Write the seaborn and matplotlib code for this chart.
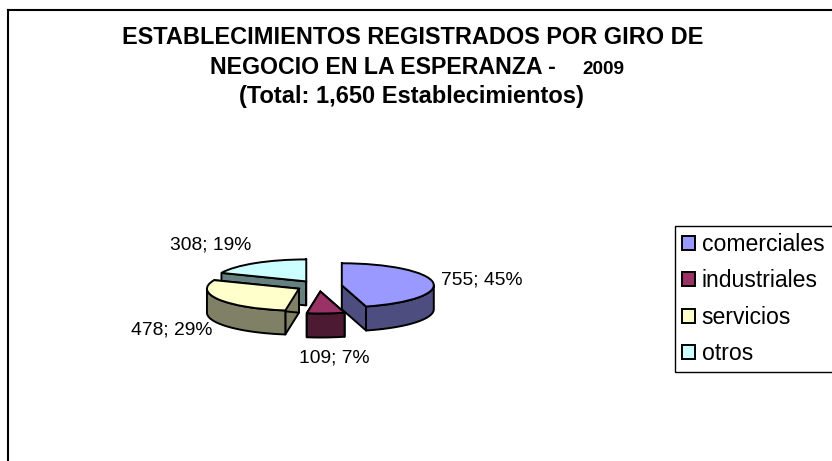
import numpy as np
import matplotlib
matplotlib.use("Agg")
import matplotlib.pyplot as plt
from matplotlib.patches import Polygon
import seaborn as sns

# ---- data ----
categories = ["comerciales", "industriales", "servicios", "otros"]
values = [755, 109, 478, 308]
percents = [45, 7, 29, 19]
top_colors = ["#9999FF", "#993366", "#FFFFCC", "#CCFFFF"]

title_line1 = "ESTABLECIMIENTOS REGISTRADOS POR GIRO DE"
title_line2 = "NEGOCIO EN LA ESPERANZA -"
title_year = "2009"
title_line3 = "(Total: 1,650 Establecimientos)"

sns.set_theme(style="white")
plt.rcParams["font.family"] = ["Liberation Sans", "DejaVu Sans"]
palette = sns.color_palette(top_colors)
side_palette = [tuple(c * 0.5 for c in col) for col in palette]

W, H = 832, 461
fig = plt.figure(figsize=(W / 100, H / 100), dpi=100, facecolor="white")

# layout (pixels)
frame_l, frame_t = 8, 10
cx, cy = 319, 286
rx, ry = 92, 22
depth = 24 / ry          # wall height in pie-y units
explode = 0.25

ax = fig.add_axes([frame_l / W, 0 - 0.02, 1.05, 1 - frame_t / H + 0.02])
for s in ["right", "bottom"]:
    ax.spines[s].set_visible(False)
for s in ["left", "top"]:
    ax.spines[s].set_visible(True)
    ax.spines[s].set_color("black")
    ax.spines[s].set_linewidth(1.5)

wedges, _ = ax.pie(values, colors=palette, startangle=90, counterclock=False,
                   explode=[explode] * len(values), radius=1, center=(0, 0),
                   wedgeprops=dict(edgecolor="black", linewidth=1.4),
                   frame=True, normalize=True)
ax.set_aspect("auto")
ax.set_xlim((frame_l - cx) / rx, (frame_l + 1.05 * W - cx) / rx)
ax.set_ylim((cy - (H + 0.02 * H)) / ry, (cy - frame_t) / ry)
ax.set_xticks([]); ax.set_yticks([])

# paint order: back slices first
paint_order = [3, 2, 0, 1]
fracs = np.array(values) / np.sum(values)
ends = np.cumsum(fracs) * 360
starts = ends - fracs * 360


def pt(a, r=1.0):
    t = np.radians(a)
    return np.array([r * np.sin(t), r * np.cos(t)])


for z, i in enumerate(paint_order):
    a0, a1 = starts[i], ends[i]
    mid = (a0 + a1) / 2
    apex = pt(mid, explode)
    base = 2 + z * 2
    drop = np.array([0, -depth])
    sidekw = dict(facecolor=side_palette[i], edgecolor="black", linewidth=1.4,
                  zorder=base, joinstyle="round")
    # radial cut walls
    for a in (a0, a1):
        rim = apex + pt(a)
        ax.add_patch(Polygon([apex, rim, rim + drop, apex + drop], closed=True, **sidekw))
    # outer wall on the front half
    lo, hi = max(a0, 90), min(a1, 270)
    if hi > lo:
        arc = np.array([apex + pt(a) for a in np.linspace(lo, hi, 40)])
        ax.add_patch(Polygon(np.vstack([arc, (arc + drop)[::-1]]), closed=True, **sidekw))
    wedges[i].set_zorder(base + 1)


def ftext(x, y, s, **kw):
    fig.text(x / W, 1 - y / H, s, va="center", color="black", **kw)


# titles
ftext(412.5, 38, title_line1, ha="center", fontsize=16.9, fontweight="bold")
ftext(210, 67, title_line2, ha="left", fontsize=16.7, fontweight="bold")
ftext(582, 69, title_year, ha="left", fontsize=13.7, fontweight="bold")
ftext(411.5, 96, title_line3, ha="center", fontsize=17.0, fontweight="bold")

# data labels
label_pos = [(441, 280, "left"), (334.5, 358, "center"), (213, 330, "right"), (251, 245, "right")]
for (x, y, ha), v, p in zip(label_pos, values, percents):
    ftext(x, y, f"{v}; {p}%", ha=ha, fontsize=13.9)

# legend, box runs past the right edge
lax_x0, lax_y0, lax_w = 675 / W, 1 - 372 / H, 0.25
leg = fig.legend(wedges, categories, loc="lower left",
                 bbox_to_anchor=(lax_x0, lax_y0, lax_w, (372 - 227) / H),
                 mode="expand", borderaxespad=0, fontsize=16.6, frameon=True,
                 fancybox=False, framealpha=1, edgecolor="black", labelcolor="black",
                 handlelength=0.55, handleheight=0.55, handletextpad=0.3,
                 labelspacing=0.577, borderpad=0.30)
leg.get_frame().set_linewidth(1.0)

fig.savefig("out.png", dpi=100, facecolor="white")
